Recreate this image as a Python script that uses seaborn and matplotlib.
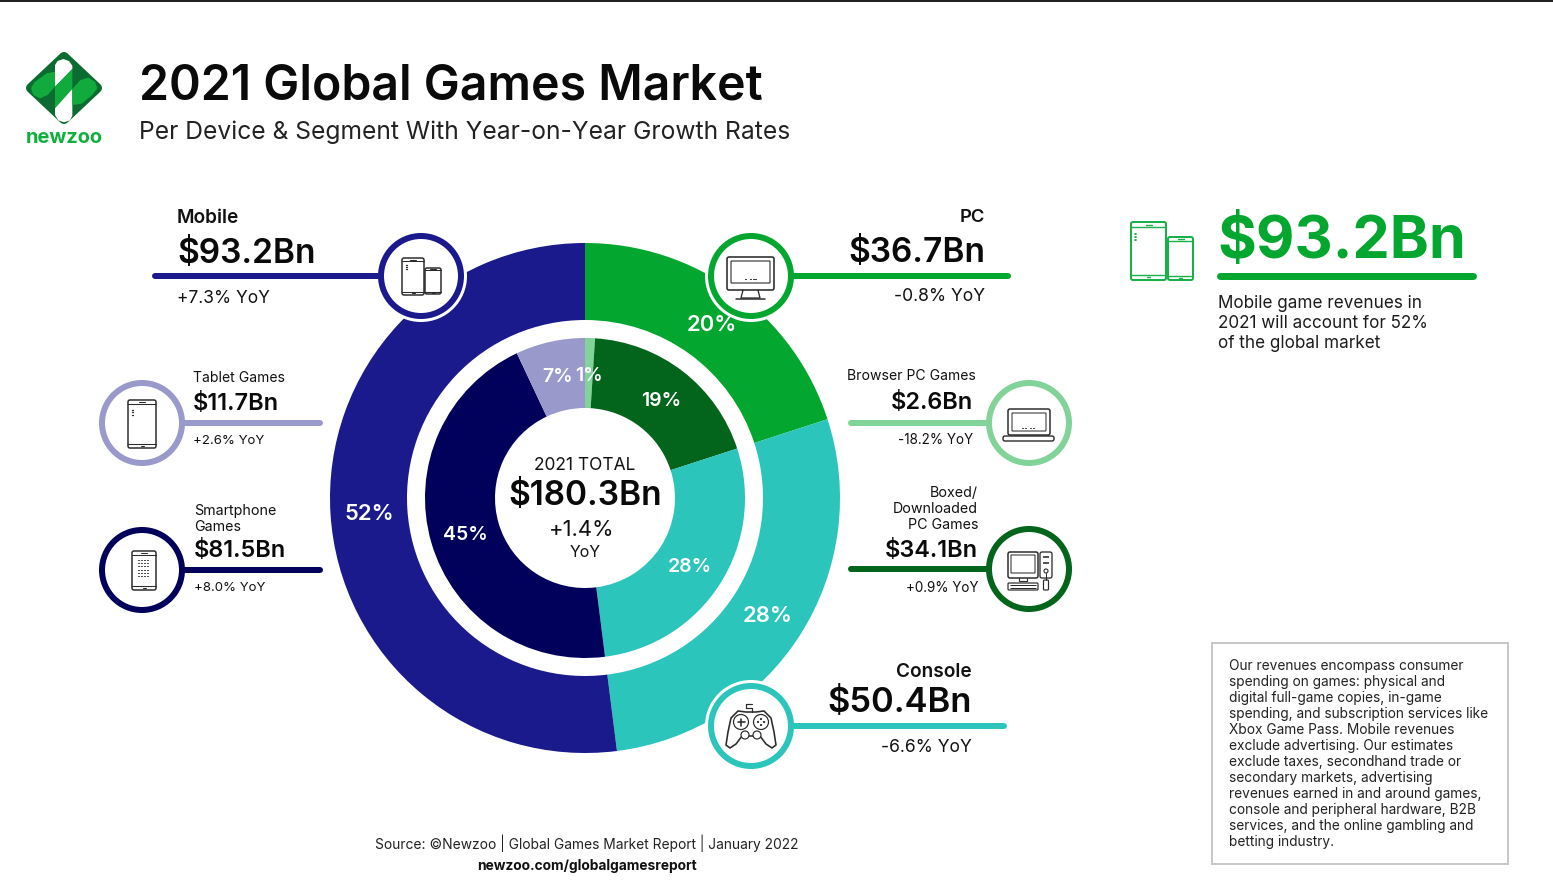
#!/usr/bin/env python3
# -*- coding: utf-8 -*-
import numpy as np
import seaborn as sns
from matplotlib import pyplot as plt
from matplotlib.patches import Circle, FancyBboxPatch, Polygon, Rectangle

W, H = 1553, 884

# outer ring, clockwise from 12 o'clock
device_names = ["PC", "Console", "Mobile"]
device_share = [20, 28, 52]
device_colors = ["#03A62E", "#2BC5BC", "#1A1A8C"]

# inner ring, clockwise from 12 o'clock
segment_names = ["Browser PC", "Boxed PC", "Console", "Smartphone", "Tablet"]
segment_share = [1, 19, 28, 45, 7]
segment_colors = ["#82D39A", "#03651C", "#2BC5BC", "#01015C", "#9999CC"]

note_lines = [
    "Our revenues encompass consumer",
    "spending on games: physical and",
    "digital full-game copies, in-game",
    "spending, and subscription services like",
    "Xbox Game Pass. Mobile revenues",
    "exclude advertising. Our estimates",
    "exclude taxes, secondhand trade or",
    "secondary markets, advertising",
    "revenues earned in and around games,",
    "console and peripheral hardware, B2B",
    "services, and the online gambling and",
    "betting industry.",
]
mobile_note = [
    "Mobile game revenues in",
    "2021 will account for 52%",
    "of the global market",
]

sns.set_theme(style="white")
plt.rcParams["font.family"] = ["Inter", "DejaVu Sans"]
ICON = "#2b2b2b"


def px(size):
    return size * 0.72


def label(ax, x, y, s, size, weight="normal", color="#111111", ha="left", zorder=8):
    # va=center sits a little high for this font
    ax.text(x, y + size * 0.1, s, fontsize=px(size), fontweight=weight, color=color, ha=ha,
            va="center", zorder=zorder)


def line(ax, xs, ys, color=ICON, lw=1.5, zorder=7, cap="round"):
    ax.plot(xs, ys, color=color, lw=px(lw), solid_capstyle=cap, zorder=zorder)


def rbox(ax, x0, y0, x1, y1, color=ICON, lw=1.5, r=2, fc="none", zorder=7):
    ax.add_patch(FancyBboxPatch((x0 + r, y0 + r), x1 - x0 - 2 * r, y1 - y0 - 2 * r,
                                boxstyle=f"round,pad={r},rounding_size={r}",
                                ec=color, fc=fc, lw=px(lw), zorder=zorder))


def phone(ax, x0, y0, x1, y1, color=ICON, lw=1.5, dots=True):
    rbox(ax, x0, y0, x1, y1, color, lw)
    hh = (y1 - y0) * 0.09
    line(ax, [x0, x1], [y0 + hh, y0 + hh], color, lw * 0.7)
    line(ax, [x0, x1], [y1 - hh, y1 - hh], color, lw * 0.7)
    cx = (x0 + x1) / 2
    line(ax, [cx - 3, cx + 3], [y0 + hh / 2, y0 + hh / 2], color, lw * 0.7)
    line(ax, [cx - 1.5, cx + 1.5], [y1 - hh / 2, y1 - hh / 2], color, lw * 0.7)
    if dots:
        for k in range(3):
            yy = y0 + (y1 - y0) * (0.2 + k * 0.055)
            line(ax, [x0 + 3.5, x0 + 4.7], [yy, yy], color, lw * 0.9)


def badge(ax, cx, cy, color, r=43, ring=6):
    # white halo keeps the ring off the donut, leader lines go over it
    ax.add_patch(Circle((cx, cy), r + 3, fc="white", ec="none", zorder=2.5))
    ax.add_patch(Circle((cx, cy), r - ring / 2, fc="white", ec=color, lw=px(ring), zorder=5))


def icon_mobile(ax):
    phone(ax, 402, 258, 424, 295)
    phone(ax, 425, 268, 441, 294, dots=False)


def icon_monitor(ax):
    rbox(ax, 727, 257, 774, 290, lw=1.6)
    rbox(ax, 731, 261, 770, 283, lw=1.1, r=0.5)
    line(ax, [743, 741, 760, 758], [290, 298, 298, 290], lw=1.3)
    line(ax, [736, 765], [299, 299], lw=1.5)
    for k in range(5):
        line(ax, [745 + k * 2.6, 745.8 + k * 2.6], [279, 279], lw=1.1)


def icon_tablet(ax):
    phone(ax, 128, 400, 156, 448)


def icon_smartphone(ax):
    phone(ax, 132, 551, 156, 590, dots=False)
    for row in range(6):
        for col in range(5):
            xx = 138 + col * 2.9
            yy = 560 + row * 3.2
            line(ax, [xx, xx + 0.8], [yy, yy], lw=1)


def icon_laptop(ax):
    rbox(ax, 1008, 409, 1050, 435, lw=1.5)
    rbox(ax, 1012, 413, 1046, 431, lw=1, r=0.5)
    rbox(ax, 1003, 436, 1054, 441, lw=1.4)
    for k in range(5):
        line(ax, [1022 + k * 2.8, 1022.8 + k * 2.8], [428, 428], lw=1)


def icon_desktop(ax):
    rbox(ax, 1008, 552, 1038, 578, lw=1.5)
    rbox(ax, 1011, 555, 1035, 573, lw=1, r=0.3)
    line(ax, [1019, 1019, 1027, 1027], [578, 581, 581, 578], lw=1.1)
    rbox(ax, 1008, 583, 1038, 590, lw=1.2, r=1)
    for row in range(2):
        line(ax, [1010, 1036], [585 + row * 2.5, 585 + row * 2.5], lw=1, cap="butt")
    rbox(ax, 1040, 552, 1052, 578, lw=1.3)
    line(ax, [1043, 1049], [557, 557], lw=1.6, cap="butt")
    line(ax, [1043, 1049], [563, 563], lw=1.6, cap="butt")
    ax.add_patch(Circle((1046, 571), 2, fc="none", ec=ICON, lw=px(1.1), zorder=7))
    line(ax, [1046, 1046], [573, 580], lw=1)
    rbox(ax, 1043.5, 580, 1048.5, 590, lw=1.2, r=1)


def icon_gamepad(ax):
    body = np.array([
        (731, 718), (738, 711), (746, 712), (756, 712), (764, 711), (771, 718),
        (774, 732), (776, 745), (772, 748), (766, 744), (760, 736), (742, 736),
        (736, 744), (730, 748), (726, 745), (728, 732),
    ])
    ax.add_patch(Polygon(body, closed=True, fc="white", ec=ICON, lw=px(1.6),
                         joinstyle="round", zorder=7))
    for cx in (741, 761):
        ax.add_patch(Circle((cx, 722), 7.5, fc="white", ec=ICON, lw=px(1.2), zorder=7))
    for cx in (745, 757):
        ax.add_patch(Circle((cx, 735), 4, fc="white", ec=ICON, lw=px(1.2), zorder=7))
    line(ax, [737.5, 744.5], [722, 722], lw=1.6, zorder=8)
    line(ax, [741, 741], [718.5, 725.5], lw=1.6, zorder=8)
    for dx, dy in ((0, -3), (0, 3), (-3, 0), (3, 0)):
        ax.add_patch(Circle((761 + dx, 722 + dy), 1.1, fc=ICON, ec="none", zorder=8))
    line(ax, [752, 752, 746, 746, 752], [712, 708, 708, 704, 704], lw=1.2)


def logo(ax):
    def to_px(pts):
        return [(15 + a / 3, 45 + b / 3) for a, b in pts]

    dark, light = "#0B6B30", "#10AB3C"
    ax.add_patch(Polygon([(64, 57), (97, 88), (64, 119), (31, 88)], closed=True,
                         fc=dark, ec=dark, lw=px(10), joinstyle="round", zorder=3))
    shapes = [
        ([(120, 60), (128, 48), (145, 42), (162, 48), (172, 62), (172, 72), (120, 125)], "white"),
        ([(120, 125), (172, 72), (172, 132), (120, 190)], light),
        ([(172, 132), (120, 190), (120, 210), (130, 226), (147, 232), (165, 226), (172, 212)], "white"),
        ([(120, 80), (120, 125), (98, 150), (75, 160), (55, 150), (48, 130), (58, 112), (95, 85)], light),
        ([(172, 180), (172, 132), (196, 105), (220, 98), (240, 110), (247, 130), (232, 150), (200, 176)], light),
    ]
    for pts, col in shapes:
        ax.add_patch(Polygon(to_px(pts), closed=True, fc=col, ec="none", zorder=4))
    ax.text(64, 138, "newzoo", fontsize=px(20), fontweight="bold", color="#0FAF3C",
            ha="center", va="center", zorder=8)


fig, ax = plt.subplots(figsize=(W / 100, H / 100), dpi=100)
fig.subplots_adjust(0, 0, 1, 1)

center = (585, 498)
ax.pie(device_share, colors=device_colors, center=center, radius=255, startangle=-90,
       counterclock=True, wedgeprops=dict(width=77, edgecolor="none"), normalize=True)
ax.pie(segment_share, colors=segment_colors, center=center, radius=160, startangle=-90,
       counterclock=True, wedgeprops=dict(width=70, edgecolor="none"), normalize=True)
ax.set_xlim(0, W)
ax.set_ylim(H, 0)
ax.set_aspect("equal")
ax.axis("off")
sns.despine(ax=ax, left=True, bottom=True)

# top rule of the page
ax.add_patch(Rectangle((0, 0), W, 1.5, fc="#222222", ec="none", zorder=9))

logo(ax)
label(ax, 139, 82, "2021 Global Games Market", 48.2, "semibold", "#0a0a0a")
label(ax, 139, 130, "Per Device & Segment With Year-on-Year Growth Rates", 24.6, "normal", "#222222")

# share labels on the rings
for (x, y), v in zip([(712, 323), (768, 614), (369, 512)], device_share):
    label(ax, x, y, f"{v}%", 22, "semibold", "white", ha="center")
for (x, y), v in zip([(589, 374), (661, 399), (690, 565), (465, 533), (558, 375)], segment_share):
    label(ax, x, y, f"{v}%", 19.5, "semibold", "white", ha="center")

# centre of the donut
label(ax, 585, 464, "2021 TOTAL", 17.4, "normal", ha="center")
label(ax, 585, 493, "$180.3Bn", 33.5, "semibold", "#0a0a0a", ha="center")
label(ax, 582, 528, "+1.4%", 22, "normal", ha="center")
label(ax, 585, 551, "YoY", 16, "normal", ha="center")

# leader lines sit under the badges
leaders = [
    (155, 385, 276, device_colors[2], 6), (788, 1008, 276, device_colors[0], 6),
    (180, 320, 423, segment_colors[4], 6), (180, 320, 570, segment_colors[3], 6),
    (851, 990, 423, segment_colors[0], 6), (851, 990, 569, segment_colors[1], 6),
    (788, 1004, 726, device_colors[1], 6), (1220, 1473, 276, "#03A62E", 7),
]
for x0, x1, y, col, lw in leaders:
    line(ax, [x0, x1], [y, y], col, lw, zorder=3)

badge(ax, 421, 276, device_colors[2])
badge(ax, 751, 276, device_colors[0])
badge(ax, 751, 726, device_colors[1])
badge(ax, 142, 423, segment_colors[4])
badge(ax, 142, 570, segment_colors[3])
badge(ax, 1029, 423, segment_colors[0])
badge(ax, 1029, 569, segment_colors[1])
icon_mobile(ax)
icon_monitor(ax)
icon_gamepad(ax)
icon_tablet(ax)
icon_smartphone(ax)
icon_laptop(ax)
icon_desktop(ax)

# device callouts
label(ax, 177, 216, "Mobile", 19, "semibold")
label(ax, 177, 251, "$93.2Bn", 33.5, "semibold", "#0a0a0a")
label(ax, 177, 297, "+7.3% YoY", 17.3)
label(ax, 985, 216, "PC", 18.5, "semibold", ha="right")
label(ax, 985, 250, "$36.7Bn", 33.5, "semibold", "#0a0a0a", ha="right")
label(ax, 985, 295, "-0.8% YoY", 17.5, ha="right")
label(ax, 972, 670, "Console", 19, "semibold", ha="right")
label(ax, 972, 700, "$50.4Bn", 34.5, "semibold", "#0a0a0a", ha="right")
label(ax, 972, 746, "-6.6% YoY", 17.5, ha="right")

# segment callouts
label(ax, 193, 377, "Tablet Games", 14)
label(ax, 193, 402, "$11.7Bn", 23.5, "semibold", "#0a0a0a")
label(ax, 193, 440, "+2.6% YoY", 13.2)
label(ax, 194, 510, "Smartphone", 14.3)
label(ax, 194, 526, "Games", 14.3)
label(ax, 194, 549, "$81.5Bn", 23.5, "semibold", "#0a0a0a")
label(ax, 194, 587, "+8.0% YoY", 13.2)
label(ax, 976, 375, "Browser PC Games", 14, ha="right")
label(ax, 973, 401, "$2.6Bn", 23.5, "semibold", "#0a0a0a", ha="right")
label(ax, 973, 439, "-18.2% YoY", 13.5, ha="right")
label(ax, 978, 492, "Boxed/", 14.3, ha="right")
label(ax, 978, 508, "Downloaded", 14.3, ha="right")
label(ax, 978, 524, "PC Games", 14.3, ha="right")
label(ax, 978, 549, "$34.1Bn", 23.5, "semibold", "#0a0a0a", ha="right")
label(ax, 978, 587, "+0.9% YoY", 13.5, ha="right")

# right hand panel
phone(ax, 1131, 222, 1166, 280, "#19B04A", 2)
phone(ax, 1168, 237, 1193, 280, "#19B04A", 2, dots=False)
label(ax, 1217, 237, "$93.2Bn", 59.3, "bold", "#03A62E")
for k, s in enumerate(mobile_note):
    label(ax, 1218, 302 + k * 20, s, 17.1, color="#1c1c1c")

ax.add_patch(Rectangle((1212, 643), 296, 221, fc="white", ec="#c8c8c8", lw=px(2), zorder=2))
for k, s in enumerate(note_lines):
    label(ax, 1229, 665 + k * 16, s, 13.7, color="#222222")

label(ax, 587, 841.5, "Source: ©Newzoo | Global Games Market Report | January 2022", 13.8, ha="center", color="#222222")
label(ax, 587, 864.5, "newzoo.com/globalgamesreport", 13.8, "bold", ha="center")

fig.savefig("out.png", dpi=100, facecolor="white")
